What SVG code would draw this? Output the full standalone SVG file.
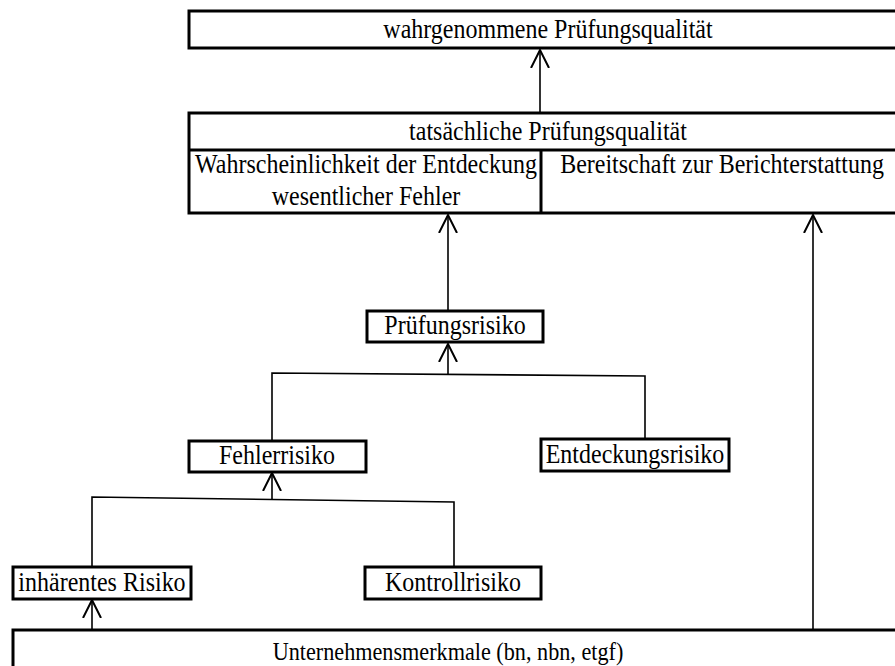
<svg xmlns="http://www.w3.org/2000/svg" width="895" height="666" viewBox="0 0 895 666">
  <style>
    .box { fill: #fff; stroke: #000; stroke-width: 3; }
    .sep { fill: none; stroke: #000; stroke-width: 3; }
    .line { fill: none; stroke: #000; stroke-width: 1.6; }
    .arrow { fill: none; stroke: #000; stroke-width: 1.6; marker-end: url(#open); }
    text { font-family: "Liberation Serif", "Times New Roman", serif; font-size: 24px; fill: #000; text-anchor: middle; }
    .small { font-size: 22.2px; }
  </style>
  <defs>
    <!-- open V arrowhead, tip at the end point -->
    <marker id="open" markerWidth="20" markerHeight="20" refX="18" refY="9" orient="auto" markerUnits="userSpaceOnUse" viewBox="0 0 20 18">
      <path d="M0,0 L18,9 L0,18" fill="none" stroke="#000" stroke-width="2"/>
    </marker>
  </defs>

  <rect width="895" height="666" fill="#fff"/>

  <g id="connectors">
    <line class="arrow" x1="540" y1="113" x2="540" y2="50"/>
    <line class="arrow" x1="448" y1="311" x2="448" y2="215"/>
    <line class="arrow" x1="813" y1="630" x2="813" y2="215"/>
    <line class="arrow" x1="448" y1="374" x2="448" y2="344"/>
    <polyline class="line" points="272,441 272,373 645,376 645,439"/>
    <line class="arrow" x1="272" y1="500" x2="272" y2="473"/>
    <polyline class="line" points="92,567 92,497 454,502 454,567"/>
    <line class="arrow" x1="92" y1="630" x2="92" y2="600"/>
  </g>

  <g id="perceived-quality">
    <rect class="box" x="189" y="11" width="720" height="37"/>
    <text transform="translate(548,38) scale(1,1.1)">wahrgenommene Prüfungsqualität</text>
  </g>

  <g id="actual-quality">
    <rect class="box" x="189" y="113" width="720" height="100"/>
    <line class="sep" x1="189" y1="150" x2="909" y2="150"/>
    <line class="sep" x1="541" y1="150" x2="541" y2="213"/>
    <text transform="translate(548,140) scale(1,1.1)">tatsächliche Prüfungsqualität</text>
    <text transform="translate(366,173) scale(1,1.1)">Wahrscheinlichkeit der Entdeckung</text>
    <text transform="translate(366,205) scale(1,1.1)">wesentlicher Fehler</text>
    <text transform="translate(722,173) scale(1,1.1)">Bereitschaft zur Berichterstattung</text>
  </g>

  <g id="audit-risk">
    <rect class="box" x="367" y="311" width="176" height="31"/>
    <text transform="translate(455,334) scale(1,1.1)">Prüfungsrisiko</text>
  </g>

  <g id="misstatement-risk">
    <rect class="box" x="189" y="441" width="177" height="31"/>
    <text transform="translate(277,464) scale(1,1.1)">Fehlerrisiko</text>
  </g>

  <g id="detection-risk">
    <rect class="box" x="541" y="439" width="188" height="32"/>
    <text transform="translate(635,463) scale(1,1.1)">Entdeckungsrisiko</text>
  </g>

  <g id="inherent-risk">
    <rect class="box" x="13" y="567" width="178" height="32"/>
    <text transform="translate(102,591) scale(1,1.1)">inhärentes Risiko</text>
  </g>

  <g id="control-risk">
    <rect class="box" x="365" y="567" width="176" height="32"/>
    <text transform="translate(453,591) scale(1,1.1)">Kontrollrisiko</text>
  </g>

  <g id="company-features">
    <rect class="box" x="13" y="630" width="900" height="60"/>
    <text class="small" transform="translate(448,660) scale(1,1.1)">Unternehmensmerkmale (bn, nbn, etgf)</text>
  </g>
</svg>
